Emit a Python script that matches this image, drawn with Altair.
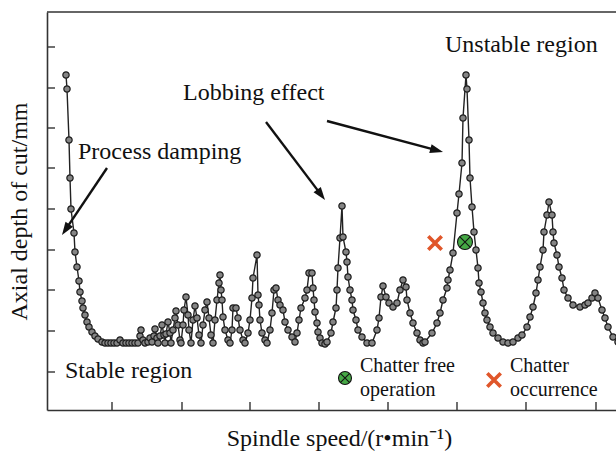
import altair as alt
import pandas as pd

# Stability lobe curve (arbitrary units; axes carry no numeric labels)
speed = [19, 20, 22, 23, 24, 27, 28, 30, 32, 33, 35, 36, 38, 40, 42, 45, 48, 51, 55, 58,
         61, 64, 67, 70, 73, 76, 79, 82, 85, 88, 91,
         93, 94, 96, 98, 101, 103, 105, 107, 108, 110, 111, 113, 115, 117, 118,
         119, 121, 123, 124, 126, 128, 129, 131, 133, 134,
         136, 137, 139, 141, 142, 144, 146, 148, 150, 152, 154,
         156, 158, 160, 162, 164, 166, 168, 170, 172, 173, 174, 175, 176, 178, 181, 183,
         185, 186, 189, 191, 193, 196, 198,
         201, 203, 205, 206, 210, 211, 212, 213, 215, 218, 220,
         223, 225, 227, 229, 231, 233, 236, 238, 241, 245, 248,
         250, 252, 254, 258, 260, 262, 265, 266, 267, 268, 270, 271, 273, 275, 278,
         280, 284, 286, 289, 290, 291, 293, 295, 296, 299, 300, 301, 303, 305, 306, 309, 311, 315, 320, 325,
         330, 332, 334, 336, 339, 342, 346, 350, 353, 356, 359, 360, 363, 366, 370, 373, 376,
         378, 385, 390, 393, 396, 400, 401, 403, 406, 410, 412, 415, 416, 419,
         420, 422, 423, 425, 427, 429, 431, 432, 434, 436, 438, 440, 443, 446, 451, 456, 461, 466, 471,
         475, 480, 483, 486, 489, 491, 493, 496, 497, 500, 502,
         505, 506, 507, 510, 512, 515, 517, 521, 526, 533, 538, 541, 545, 548, 551, 555, 558, 561, 566, 571]
depth = [335, 321, 270, 232, 201, 177, 158, 143, 129, 118, 109, 102, 95, 88, 83, 78, 74, 71, 68, 67,
         67, 67, 67, 67, 70, 67, 67, 67, 67, 67, 67,
         74, 80, 70, 67, 68, 72, 68, 74, 81, 72, 67, 74, 85, 75, 67,
         76, 88, 77, 67, 80, 92, 99, 85, 70, 67,
         85, 100, 113, 95, 80, 67, 90, 104, 92, 75, 67,
         85, 100, 108, 92, 75, 67, 90, 110, 127, 135, 120, 110, 93, 80, 70, 67,
         80, 102, 102, 92, 80, 70, 67,
         77, 90, 112, 132, 155, 115, 105, 90, 77, 70, 67,
         80, 97, 120, 122, 110, 105, 100, 88, 80, 73, 68,
         77, 90, 102, 112, 120, 137, 137, 122, 110, 98, 87, 78, 72, 67, 66,
         68, 77, 88, 102, 120, 142, 172, 204, 173, 158, 148, 133, 120, 110, 100, 90, 80, 73, 67, 67,
         80, 92, 113, 124, 113, 107, 103, 107, 120, 130, 123, 110, 97, 87, 77, 70, 67,
         68, 77, 87, 97, 110, 122, 130, 140, 157, 197, 216, 247, 292, 335,
         321, 270, 232, 203, 178, 160, 142, 127, 118, 107, 97, 90, 83, 77, 72, 68, 67, 68, 72,
         75, 83, 93, 103, 117, 130, 143, 160, 178, 195, 208,
         195, 178, 167, 155, 143, 132, 120, 112, 105, 103, 105, 107, 112, 117, 112, 100, 92, 83, 73, 68]

# Axis tick positions (unlabelled)
speed_ticks = [65, 135, 203, 272, 341, 410, 479, 549]
depth_ticks = [38, 79, 120, 160, 201, 242, 282, 322, 363]

# Experimental points and legend symbols
stable_speed = [418, 298]
stable_depth = [168, 32]
stable_size = [225, 169]
chatter_speed = [388, 447]
chatter_depth = [167, 30]

# Annotations
labels = ["Unstable region", "Lobbing effect", "Process damping", "Stable region"]
label_speed = [398, 136, 31, 18]
label_depth = [365, 317, 258, 39]

legend_labels = ["Chatter free", "operation", "Chatter", "occurrence"]
legend_speed = [313, 313, 463, 463]
legend_depth = [44, 20, 44, 20]

# Arrows: start, end of shaft, tip, head angle
arrow_speed = [60, 219, 280]
arrow_depth = [242, 288, 289]
arrow_speed2 = [18.9, 273.8, 389.2]
arrow_depth2 = [180.8, 215.6, 259.8]
tip_speed = [15, 278, 396]
tip_depth = [175, 210, 258]
tip_angle = [214, 143, 105]

FONT = "Liberation Serif"
W, H = 569, 398
xs = alt.Scale(domain=[0, W], nice=False, zero=False)
ys = alt.Scale(domain=[0, H], nice=False, zero=False)

xaxis = alt.Axis(title="Spindle speed/(r\u2022min\u207b\u00b9)", labels=False, ticks=False, grid=False,
                 domainColor="#333333", domainWidth=1.6, titleFont=FONT, titleFontSize=24,
                 titleFontWeight="normal", titleColor="#111111", titlePadding=16, titleX=292)
yaxis = alt.Axis(title="Axial depth of cut/mm", labels=False, ticks=False, grid=False,
                 domainColor="#333333", domainWidth=1.6, titleFont=FONT, titleFontSize=24,
                 titleFontWeight="normal", titleColor="#111111", titlePadding=16)


def X(f="speed"):
    return alt.X(f"{f}:Q", scale=xs, axis=xaxis)


def Y(f="depth"):
    return alt.Y(f"{f}:Q", scale=ys, axis=yaxis)


curve = pd.DataFrame({"speed": speed, "depth": depth, "order": list(range(len(speed)))})

line = alt.Chart(curve).mark_line(color="#222222", strokeWidth=1.4, clip=True).encode(
    x=X(), y=Y(), order="order:Q")
pts = alt.Chart(curve).mark_point(shape="circle", filled=True, fill="#858585", stroke="#1e1e1e",
                                  strokeWidth=1.2, size=40, opacity=1, clip=True).encode(x=X(), y=Y())

yt = alt.Chart(pd.DataFrame({"depth": depth_ticks})).mark_rule(color="#333333", strokeWidth=1.4).encode(
    y=Y(), x=alt.value(0), x2=alt.value(8))
xt = alt.Chart(pd.DataFrame({"speed": speed_ticks})).mark_rule(color="#333333", strokeWidth=1.4).encode(
    x=X(), y=alt.value(H), y2=alt.value(H - 8))
top = alt.Chart(pd.DataFrame({"speed": [0]})).mark_rule(color="#333333", strokeWidth=1.4).encode(
    x=alt.value(0), x2=alt.value(W), y=alt.value(0))

ok_df = pd.DataFrame({"speed": stable_speed, "depth": stable_depth, "s": stable_size})
ok_c = alt.Chart(ok_df).mark_point(shape="circle", filled=True, fill="#45a845", stroke="#111111",
                                   strokeWidth=1.1, opacity=1).encode(
    x=X(), y=Y(), size=alt.Size("s:Q", scale=None))
ok_x = alt.Chart(ok_df).mark_point(shape="M-0.68,-0.68L0.68,0.68M-0.68,0.68L0.68,-0.68", filled=False,
                                   stroke="#111111", strokeWidth=1.1, opacity=1).encode(
    x=X(), y=Y(), size=alt.Size("s:Q", scale=None))

bad_df = pd.DataFrame({"speed": chatter_speed, "depth": chatter_depth})
bad = alt.Chart(bad_df).mark_point(shape="M-1,-1L1,1M-1,1L1,-1", filled=False, stroke="#e0562a",
                                   strokeWidth=3.6, size=180, opacity=1).encode(x=X(), y=Y())

lab_df = pd.DataFrame({"speed": label_speed, "depth": label_depth, "label": labels})
texts = alt.Chart(lab_df).mark_text(align="left", baseline="middle", font=FONT, fontSize=24,
                                    color="#111111").encode(x=X(), y=Y(), text="label:N")
leg_df = pd.DataFrame({"speed": legend_speed, "depth": legend_depth, "label": legend_labels})
leg_texts = alt.Chart(leg_df).mark_text(align="left", baseline="middle", font=FONT, fontSize=20,
                                        color="#111111").encode(x=X(), y=Y(), text="label:N")

arr_df = pd.DataFrame({"speed": arrow_speed, "depth": arrow_depth,
                       "speed2": arrow_speed2, "depth2": arrow_depth2})
shafts = alt.Chart(arr_df).mark_rule(color="#111111", strokeWidth=2.4).encode(
    x=X(), y=Y(), x2="speed2:Q", y2="depth2:Q")
head_df = pd.DataFrame({"speed": tip_speed, "depth": tip_depth, "ang": tip_angle})
heads = alt.Chart(head_df).mark_point(shape="M0,0L0.7,2L-0.7,2Z", filled=True, color="#111111",
                                      size=169, opacity=1).encode(
    x=X(), y=Y(), angle=alt.Angle("ang:Q", scale=None))

chart = alt.layer(line, pts, yt, xt, top, ok_c, ok_x, bad, texts, leg_texts, shafts, heads).properties(
    width=W, height=H,
    autosize=alt.AutoSizeParams(type="none"),
    padding={"left": 47, "top": 12, "right": 0, "bottom": 42},
    background="white",
).configure_view(stroke=None)

chart.save("out.html", embed_options={"renderer": "svg", "actions": False})
